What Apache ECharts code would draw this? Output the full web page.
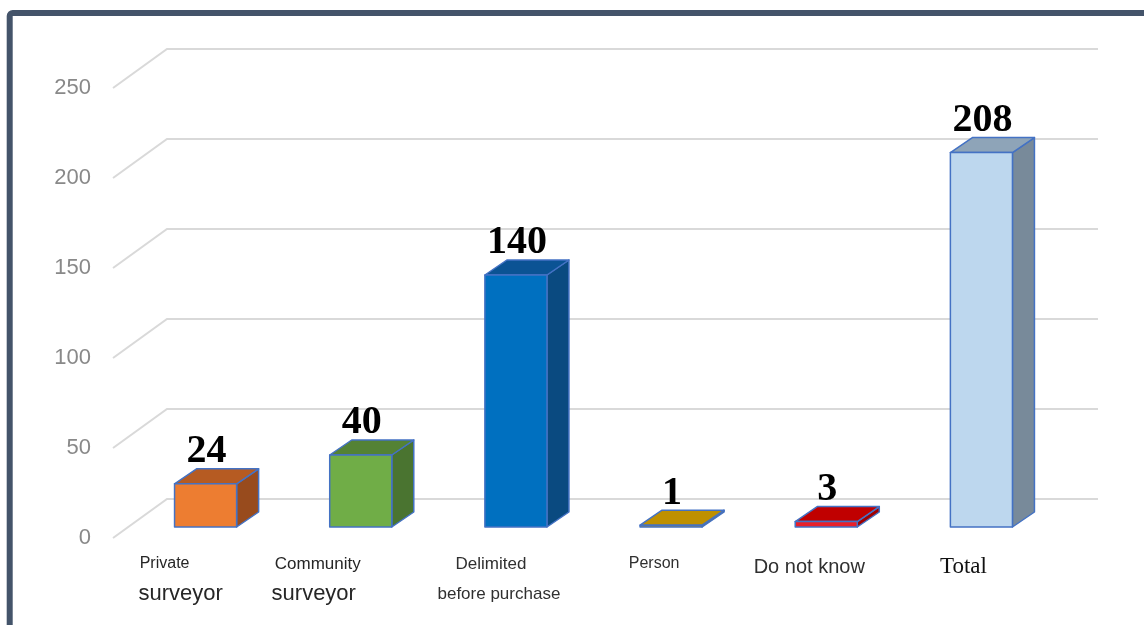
<!DOCTYPE html>
<html>
<head>
<meta charset="utf-8">
<script src="https://cdn.jsdelivr.net/npm/echarts@6/dist/echarts.min.js"></script>
<style>
  html, body { margin: 0; padding: 0; background: #fff; }
  #chart { width: 1144px; height: 625px; }
</style>
</head>
<body>
<div id="chart"></div>
<script>
// Survey answers: who delimited the plot
const categories = ['Private surveyor', 'Community surveyor', 'Delimited before purchase', 'Person', 'Do not know', 'Total'];
const labelFirstLine = ['Private', 'Community', 'Delimited', 'Person', 'Do not know', 'Total'];
const labelSecondLine = ['surveyor', 'surveyor', 'before purchase', '', '', ''];
const counts = [24, 40, 140, 1, 3, 208];
const yTicks = [0, 50, 100, 150, 200, 250];

// Shades for the front, top and right side of each box
const palette = [
  { front: '#ED7D31', top: '#B65B22', side: '#984B1D' },
  { front: '#70AD47', top: '#548235', side: '#4A7430' },
  { front: '#0070C0', top: '#0B5394', side: '#0A4A80' },
  { front: '#BF9000', top: '#BF9000', side: '#9C7600' },
  { front: '#E8202A', top: '#C00000', side: '#A00000' },
  { front: '#BDD7EE', top: '#8EA4B8', side: '#788A9A' }
];

const WALL = [54, -39];      // back wall offset from the front plane
const BAR_SHIFT = [15, -11]; // boxes stand slightly behind the front plane
const BAR_DEPTH = [22, -15]; // box depth
const OUTLINE = '#4472C4';

function renderWall(params, api) {
  const p = api.coord([0, api.value(1)]);
  const cs = params.coordSys;
  const xl = cs.x, xr = cs.x + cs.width;
  return {
    type: 'polyline',
    shape: { points: [[xl, p[1]], [xl + WALL[0], p[1] + WALL[1]], [xr + WALL[0], p[1] + WALL[1]]] },
    style: { stroke: '#d9d9d9', lineWidth: 2, fill: null }
  };
}

function renderBox(params, api) {
  const i = api.value(0);
  const v = api.value(1);
  const base = api.coord([i, 0]);
  const top = api.coord([i, v]);
  const bw = api.size([1, 0])[0] * 0.4;
  const x0 = base[0] + BAR_SHIFT[0] - bw / 2, x1 = x0 + bw;
  const yb = base[1] + BAR_SHIFT[1], yt = top[1] + BAR_SHIFT[1];
  const dx = BAR_DEPTH[0], dy = BAR_DEPTH[1];
  const c = palette[i];
  const edge = { stroke: OUTLINE, lineWidth: 1.5, lineJoin: 'round' };
  return {
    type: 'group',
    children: [
      { type: 'polygon', shape: { points: [[x1, yb], [x1 + dx, yb + dy], [x1 + dx, yt + dy], [x1, yt]] },
        style: Object.assign({ fill: c.side }, edge) },
      { type: 'polygon', shape: { points: [[x0, yt], [x1, yt], [x1 + dx, yt + dy], [x0 + dx, yt + dy]] },
        style: Object.assign({ fill: c.top }, edge) },
      { type: 'rect', shape: { x: x0, y: yt, width: bw, height: Math.max(yb - yt, 0.5) },
        style: Object.assign({ fill: c.front }, edge) },
      { type: 'text', x: x0 + bw / 2 + 1, y: yt + dy - 17,
        style: { text: String(v), fill: '#000', font: 'bold 40px "Liberation Serif"',
                 textAlign: 'center', textVerticalAlign: 'middle' } }
    ]
  };
}

// per-category label styles (two lines of different size)
const sans = '"Liberation Sans", Arial, sans-serif';
const rich = {
  t0: { fontSize: 16, fontFamily: sans, color: '#262626', lineHeight: 30, align: 'center', padding: [0, 52, 0, 0] },
  b0: { fontSize: 22, fontFamily: sans, color: '#262626', lineHeight: 30, align: 'center', padding: [0, 20, 0, 0] },
  t1: { fontSize: 17, fontFamily: sans, color: '#262626', lineHeight: 30, align: 'center', padding: [0, 56, 0, 0] },
  b1: { fontSize: 22, fontFamily: sans, color: '#262626', lineHeight: 30, align: 'center', padding: [0, 64, 0, 0] },
  t2: { fontSize: 17, fontFamily: sans, color: '#303030', lineHeight: 30, align: 'center', padding: [0, 20, 0, 0] },
  b2: { fontSize: 17, fontFamily: sans, color: '#303030', lineHeight: 30, align: 'center', padding: [0, 4, 0, 0] },
  t3: { fontSize: 16, fontFamily: sans, color: '#303030', lineHeight: 30, align: 'center', padding: [0, 4, 0, 0] },
  t4: { fontSize: 20, fontFamily: sans, color: '#303030', lineHeight: 36, align: 'center', padding: [0, 4, 0, 0] },
  t5: { fontSize: 23, fontFamily: '"Liberation Serif", "Times New Roman", serif', color: '#111', lineHeight: 36, align: 'center', padding: [0, 6, 0, 0] }
};

const chart = echarts.init(document.getElementById('chart'));
chart.setOption({
  animation: false,
  backgroundColor: '#ffffff',
  graphic: [{
    type: 'rect',
    shape: { x: 9.7, y: 13, width: 1300, height: 800, r: 3 },
    style: { fill: 'none', stroke: '#44546A', lineWidth: 6 },
    z: 100
  }],
  grid: { left: 113, right: 100, top: 88, bottom: 87, outerBoundsMode: 'none' },
  xAxis: {
    type: 'category',
    data: categories,
    axisLine: { show: false },
    axisTick: { show: false },
    axisLabel: {
      interval: 0,
      margin: 11,
      formatter: function (value, index) {
        let s = '{t' + index + '|' + labelFirstLine[index] + '}';
        if (labelSecondLine[index]) s += '\n{b' + index + '|' + labelSecondLine[index] + '}';
        return s;
      },
      rich: rich
    }
  },
  yAxis: {
    type: 'value',
    min: 0,
    max: 250,
    interval: 50,
    axisLine: { show: false },
    axisTick: { show: false },
    splitLine: { show: false },
    axisLabel: { color: '#898989', fontSize: 22, fontFamily: sans, margin: 22 }
  },
  series: [
    {
      type: 'custom',
      renderItem: renderWall,
      data: yTicks.map(v => [0, v]),
      z: 1,
      silent: true
    },
    {
      type: 'custom',
      renderItem: renderBox,
      data: counts.map((v, i) => [i, v]),
      z: 5
    }
  ]
});
</script>
</body>
</html>
